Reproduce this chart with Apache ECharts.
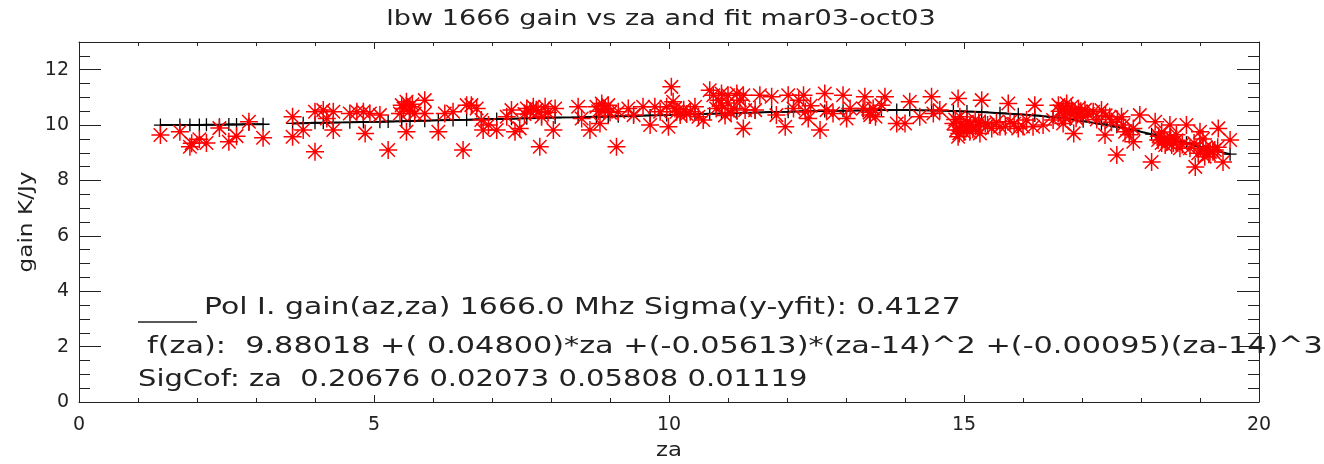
<!DOCTYPE html>
<html>
<head>
<meta charset="utf-8">
<script src="https://cdn.jsdelivr.net/npm/echarts@6/dist/echarts.min.js"></script>
<style>
  html, body { margin: 0; padding: 0; background: #fff; }
  #main { width: 1324px; height: 464px; }
</style>
</head>
<body>
<div id="main"></div>
<script>
// measured gain points (za, gain K/Jy)
let gainZa = [1.38, 1.71, 1.88, 1.91, 2.04, 2.16, 2.38, 2.54, 2.67, 2.88, 3.12, 3.62, 3.62, 3.80, 4.00, 4.00, 4.14, 4.20, 4.31, 4.31,
  4.59, 4.71, 4.82, 4.93, 4.85, 5.10, 5.24, 5.47, 5.55, 5.61, 5.55, 5.44, 5.69, 5.86, 5.86, 6.09, 6.20, 6.34, 6.51, 6.57,
  6.65, 6.74, 6.82, 6.85, 6.94, 7.08, 7.25, 7.33, 7.39, 7.47, 7.59, 7.70, 7.78, 7.84, 7.90, 7.81, 8.04, 8.07, 8.46, 8.52,
  8.66, 8.77, 8.83, 8.86, 8.92, 8.97, 9.11, 9.14, 9.31, 9.40, 9.56, 9.68, 9.76, 9.85, 9.96, 9.99, 10.04, 10.07, 10.13, 10.19,
  10.36, 10.44, 10.58, 10.69, 10.75, 10.84, 10.89, 11.00, 11.15, 11.26, 11.29, 11.26, 11.46, 11.54, 11.74, 11.82, 11.97, 12.02, 12.11, 12.28,
  12.31, 12.36, 12.56, 12.64, 12.67, 12.78, 12.95, 13.01, 13.07, 13.29, 13.32, 13.41, 13.46, 13.60, 13.66, 13.86, 14.00, 14.08, 14.25, 14.45,
  14.48, 14.59, 14.82, 14.87, 14.90, 14.93, 14.99, 14.90, 15.05, 15.10, 15.19, 15.30, 15.27, 15.36, 15.47, 15.61, 15.75, 15.78, 15.92, 16.06,
  16.20, 16.17, 16.34, 16.51, 16.60, 16.68, 16.68, 16.74, 16.80, 16.86, 16.94, 17.02, 17.19, 17.33, 17.39, 17.47, 17.59, 17.67, 17.73, 17.87,
  17.87, 17.98, 18.18, 18.24, 18.29, 18.41, 18.49, 18.52, 18.66, 18.77, 18.83, 18.92, 18.97, 19.00, 19.08, 19.17, 19.22, 19.31, 19.39, 19.51,
  5.50, 5.60, 5.65, 7.55, 7.65, 7.75, 7.95, 8.80, 8.90, 9.00, 10.10, 10.25, 10.30, 10.50, 10.80, 10.90, 11.00, 11.10, 11.20, 11.05,
  10.95, 12.20, 12.40, 13.40, 13.50, 14.85, 14.95, 15.00, 15.05, 15.10, 15.15, 14.92, 15.20, 15.25, 15.40, 15.55, 15.70, 15.85, 16.00, 16.62,
  16.70, 16.75, 16.82, 16.88, 16.98, 17.05, 17.10, 16.72, 16.90, 17.25, 17.40, 17.50, 17.60, 17.70, 17.80, 18.30, 18.35, 18.40, 18.45, 18.50,
  18.55, 18.60, 18.70, 18.35, 18.60, 19.05, 19.10, 19.15, 19.25, 19.30, 19.05, 18.90];
let gainVal = [9.64, 9.76, 9.22, 9.34, 9.49, 9.35, 9.89, 9.40, 9.60, 10.12, 9.54, 10.30, 9.58, 9.82, 10.48, 9.04, 10.54, 10.24, 10.48, 9.82,
  10.42, 10.48, 10.48, 10.42, 9.70, 10.36, 9.10, 10.72, 10.84, 10.66, 9.76, 10.42, 10.42, 10.90, 10.42, 9.76, 10.42, 10.48, 9.10, 10.72,
  10.72, 10.60, 10.18, 9.82, 10.00, 9.82, 10.30, 10.54, 9.76, 9.88, 10.60, 10.66, 10.48, 10.30, 10.66, 9.22, 9.82, 10.60, 10.66, 10.24,
  9.82, 10.66, 10.06, 10.78, 10.60, 10.72, 9.22, 10.48, 10.60, 10.36, 10.66, 10.00, 10.66, 10.48, 10.66, 9.94, 11.38, 10.84, 10.48, 10.36,
  10.48, 10.66, 10.18, 11.26, 11.08, 10.90, 11.14, 11.08, 11.14, 11.08, 10.54, 9.88, 10.54, 11.08, 11.02, 10.36, 9.94, 11.08, 10.60, 11.08,
  10.48, 10.24, 9.82, 11.14, 10.54, 10.42, 11.08, 10.24, 10.60, 10.60, 11.02, 10.36, 10.60, 10.72, 11.02, 10.06, 10.06, 10.84, 10.30, 11.02,
  10.42, 10.54, 10.06, 9.82, 10.96, 10.30, 9.94, 9.58, 10.12, 9.76, 10.18, 10.90, 9.70, 10.06, 9.88, 9.94, 10.78, 10.12, 9.88, 10.18,
  10.72, 9.94, 10.00, 10.18, 10.72, 10.60, 10.06, 10.78, 10.42, 9.70, 10.60, 10.30, 10.48, 10.54, 9.64, 10.30, 8.92, 10.30, 9.76, 9.88,
  9.40, 10.36, 8.67, 10.12, 9.46, 9.28, 10.00, 9.28, 9.16, 10.00, 9.16, 8.49, 8.98, 9.76, 8.86, 9.04, 9.04, 9.88, 8.67, 9.46,
  10.60, 10.50, 10.75, 10.40, 10.50, 10.55, 10.45, 10.50, 10.55, 10.45, 10.60, 10.55, 10.40, 10.30, 10.60, 10.70, 10.80, 10.60, 10.90, 10.45,
  10.35, 10.90, 10.70, 10.45, 10.30, 10.20, 10.05, 9.75, 9.90, 10.00, 9.85, 9.70, 9.95, 10.10, 10.00, 10.10, 9.95, 10.05, 9.95, 10.50,
  10.35, 10.55, 10.65, 10.45, 10.50, 10.55, 10.40, 10.25, 10.25, 10.20, 10.35, 10.10, 10.20, 10.00, 9.65, 9.60, 9.35, 9.50, 9.40, 9.55,
  9.35, 9.45, 9.30, 9.75, 9.65, 9.10, 9.20, 8.95, 9.10, 9.20, 9.50, 9.35];

// fit values at za (null = break in the line)
let fitZa = [1.38, 1.71, 1.88, 2.04, 2.16, 2.38, 2.54, 2.67, 2.88, 3.12, 3.40, 3.62, 3.80, 4.00, 4.14, 4.31, 4.59, 4.82, 5.10, 5.24,
  5.47, 5.61, 5.86, 6.09, 6.34, 6.57, 6.82, 7.08, 7.33, 7.59, 7.84, 8.07, 8.46, 8.77, 8.97, 9.14, 9.40, 9.68, 9.96, 10.19,
  10.44, 10.69, 10.89, 11.15, 11.46, 11.74, 12.02, 12.31, 12.64, 12.95, 13.29, 13.60, 13.86, 14.08, 14.45, 14.82, 15.05, 15.30, 15.61, 15.92,
  16.20, 16.51, 16.80, 17.02, 17.33, 17.59, 17.87, 18.18, 18.49, 18.77, 19.00, 19.22, 19.51];
let fitVal = [10.00, 10.00, 10.00, 10.00, 10.01, 10.01, 10.02, 10.02, 10.03, 10.03, null, 10.06, 10.07, 10.08, 10.08, 10.09, 10.10, 10.11, 10.12, 10.13,
  10.14, 10.15, 10.16, 10.17, 10.18, 10.19, 10.21, 10.22, 10.23, 10.25, 10.26, 10.27, 10.28, 10.30, 10.31, 10.32, 10.33, 10.35, 10.36, 10.37,
  10.39, 10.41, 10.42, 10.44, 10.45, 10.47, 10.48, 10.50, 10.51, 10.52, 10.53, 10.54, 10.54, 10.54, 10.53, 10.51, 10.49, 10.47, 10.43, 10.39,
  10.35, 10.29, 10.21, 10.14, 10.04, 9.94, 9.82, 9.67, 9.51, 9.36, 9.22, 9.10, 8.95];

let titleText = 'lbw 1666 gain vs za and fit mar03-oct03';
let xName = 'za';
let yName = 'gain K/Jy';
let noteLines = [
  'Pol I. gain(az,za) 1666.0 Mhz Sigma(y-yfit): 0.4127',
  'f(za):  9.88018 +( 0.04800)*za +(-0.05613)*(za-14)^2 +(-0.00095)(za-14)^3',
  'SigCof: za  0.20676 0.02073 0.05808 0.01119'
];

let font = 'DejaVu Sans';
let ink = '#222';

let chart = echarts.init(document.getElementById('main'), null, { renderer: 'canvas' });

//坐标轴公共样式
function xAxisOf(pos, showLabel) {
  return {
    type: 'value', position: pos, min: 0, max: 20, interval: 5,
    axisLine: { show: true, onZero: false, lineStyle: { color: ink, width: 1 } },
    axisTick: { show: true, inside: true, length: 7, lineStyle: { color: ink } },
    minorTick: { show: true, splitNumber: 5, length: 4, lineStyle: { color: ink } },
    axisLabel: { show: showLabel, margin: 14, fontFamily: font, fontSize: 19, color: ink },
    splitLine: { show: false }
  };
}
function yAxisOf(pos, showLabel) {
  return {
    type: 'value', position: pos, min: 0, max: 13, interval: 2,
    axisLine: { show: true, onZero: false, lineStyle: { color: ink, width: 1 } },
    axisTick: { show: true, inside: true, length: 22, lineStyle: { color: ink } },
    minorTick: { show: true, splitNumber: 4, length: 11, lineStyle: { color: ink } },
    axisLabel: { show: showLabel, margin: 10, fontFamily: font, fontSize: 19, color: ink, showMaxLabel: false },
    splitLine: { show: false }
  };
}

//文字横向拉宽, 模拟原图字体
function wideText(x, y, text, size, sx, align, rot) {
  return {
    type: 'text', x: x, y: y, scaleX: sx, rotation: rot || 0,
    style: { x: 0, y: 0, text: text, font: size + 'px "' + font + '"', fill: ink,
      textAlign: align || 'left', textVerticalAlign: 'middle' }
  };
}

let noteGraphics = [
  wideText(661, 20, titleText, 21, 1.29, 'center'),
  wideText(669, 451, xName, 19, 1.2, 'center'),
  wideText(27, 222, yName, 19, 1.22, 'center', Math.PI / 2),
  { type: 'line', shape: { x1: 138, y1: 322, x2: 197, y2: 322 }, style: { stroke: ink, lineWidth: 1.5 } },
  wideText(204, 308, noteLines[0], 23, 1.30),
  wideText(147, 347, noteLines[1], 23, 1.317),
  wideText(138, 380, noteLines[2], 23, 1.26)
];

chart.setOption({
  backgroundColor: '#fff',
  animation: false,
  grid: { left: 79, right: 65, top: 42, bottom: 62, outerBoundsMode: 'none', containLabel: false },
  xAxis: [xAxisOf('bottom', true), xAxisOf('top', false)],
  yAxis: [yAxisOf('left', true), yAxisOf('right', false)],
  graphic: noteGraphics,
  series: [
    {
      type: 'line',
      data: fitZa.map((z, i) => [z, fitVal[i] === null ? '-' : fitVal[i]]),
      symbol: 'path://M0,-1L0,1M-1,0L1,0',
      symbolSize: 13,
      showSymbol: true,
      connectNulls: false,
      lineStyle: { color: '#000', width: 2 },
      itemStyle: { color: 'rgba(0,0,0,0)', borderColor: '#000', borderWidth: 1.3 },
      z: 2
    },
    {
      type: 'scatter',
      data: gainZa.map((z, i) => [z, gainVal[i]]),
      symbol: 'path://M0,-1L0,1M-1,0L1,0M-0.75,-0.75L0.75,0.75M-0.75,0.75L0.75,-0.75',
      symbolSize: 18,
      itemStyle: { color: 'rgba(0,0,0,0)', borderColor: '#ff0000', borderWidth: 1.5, opacity: 1 },
      z: 3
    }
  ]
});
</script>
</body>
</html>
